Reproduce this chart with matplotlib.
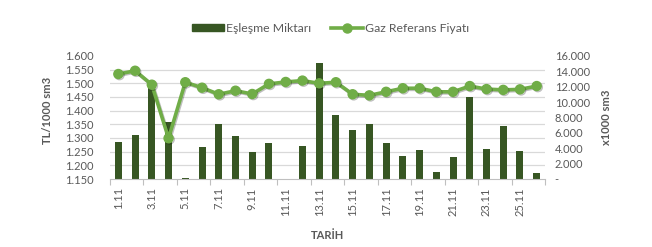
import numpy as np
import matplotlib
matplotlib.use("Agg")
import matplotlib.pyplot as plt
import matplotlib.ticker as mticker
import matplotlib.patheffects as pe
from matplotlib.patches import Patch
from matplotlib.lines import Line2D

plt.rcParams['font.family'] = ['Lato', 'DejaVu Sans']

# data (26 days of November)
dates = ['%d.11' % d for d in range(1, 27)]
volume = [4800, 5700, 12450, 7400, 100, 4200, 7100, 5600, 3500, 4700,
          50, 4300, 15100, 8300, 6400, 7100, 4700, 3000, 3800, 900,
          2900, 10700, 3900, 6900, 3600, 800]
price = [1.534, 1.546, 1.495, 1.299, 1.504, 1.484, 1.460, 1.473, 1.461, 1.498,
         1.505, 1.510, 1.500, 1.504, 1.460, 1.456, 1.469, 1.482, 1.482, 1.469,
         1.469, 1.490, 1.479, 1.476, 1.478, 1.490]

bar_col = '#375623'
line_col = '#70AD47'
txt_col = '#595959'
grid_col = '#D9D9D9'

fig = plt.figure(figsize=(6.52, 2.47), dpi=100)
ax = fig.add_axes([0.1687, 0.2753, 0.6673, 0.498])
ax2 = ax.twinx()

x = np.arange(len(dates))

# bars on the right axis (behind)
ax2.bar(x, volume, width=0.42, color=bar_col, zorder=2)
ax2.set_ylim(0, 16000)
ax2.set_yticks(np.arange(0, 16001, 2000))
ax2.yaxis.set_major_formatter(mticker.FuncFormatter(
    lambda v, p: '-' if v == 0 else '{:,.0f}'.format(v).replace(',', '.')))
# grid lines follow the left axis ticks
ax2.set_yticks(np.linspace(0, 16000, 10), minor=True)
ax2.grid(which='minor', axis='y', color=grid_col, linewidth=0.9, zorder=0)
ax2.tick_params(axis='y', which='both', length=0, pad=7, labelsize=8, labelcolor=txt_col)
ax2.set_ylabel('x1000 sm3', fontsize=8, fontweight='bold', color=txt_col, labelpad=8)

# price line on the left axis (front)
ax.set_zorder(ax2.get_zorder() + 1)
ax.patch.set_visible(False)
ax.plot(x, price, color=line_col, linewidth=2.6, marker='o', markersize=6.5,
        markerfacecolor=line_col, markeredgecolor=line_col, zorder=3,
        path_effects=[pe.SimpleLineShadow(offset=(0.8, -0.8), alpha=0.25), pe.Normal()])
ax.set_ylim(1.15, 1.6)
ax.set_yticks(np.arange(1.15, 1.6001, 0.05))
ax.yaxis.set_major_formatter(mticker.FuncFormatter(
    lambda v, p: '{:.3f}'.format(v)))
ax.tick_params(axis='y', length=0, pad=12, labelsize=8, labelcolor=txt_col)
ax.set_ylabel('TL/1000 sm3', fontsize=8, fontweight='bold', color=txt_col)
ax.yaxis.set_label_coords(-0.132, 0.56)

ax.set_xlim(-0.5, len(dates) - 0.5)
ax.set_xticks(x[::2])
ax.set_xticklabels(dates[::2], rotation=90)
ax.set_xticks(np.arange(-0.5, len(dates), 2), minor=True)
ax.tick_params(axis='x', which='major', length=0, pad=6, labelsize=8, labelcolor=txt_col)
ax.tick_params(axis='x', which='minor', length=4, color='#BFBFBF', width=0.8)
ax.set_xlabel('TARİH', fontsize=8, fontweight='bold', color=txt_col, labelpad=10)

for a in (ax, ax2):
    for s in ('top', 'left', 'right'):
        a.spines[s].set_visible(False)
    a.spines['bottom'].set_color('#BFBFBF')
    a.spines['bottom'].set_linewidth(0.8)
ax2.spines['bottom'].set_visible(False)

handles = [Patch(color=bar_col),
           Line2D([0], [0], color=line_col, linewidth=2.6, marker='o', markersize=6.5)]
fig.legend(handles, ['Eşleşme Miktarı', 'Gaz Referans Fiyatı'], loc='center',
           bbox_to_anchor=(0.507, 0.885), ncol=2, frameon=False, fontsize=8.8,
           labelcolor=txt_col, handlelength=2.6, handleheight=0.45,
           columnspacing=1.6, handletextpad=0.2)

fig.savefig('out.png', dpi=100)
